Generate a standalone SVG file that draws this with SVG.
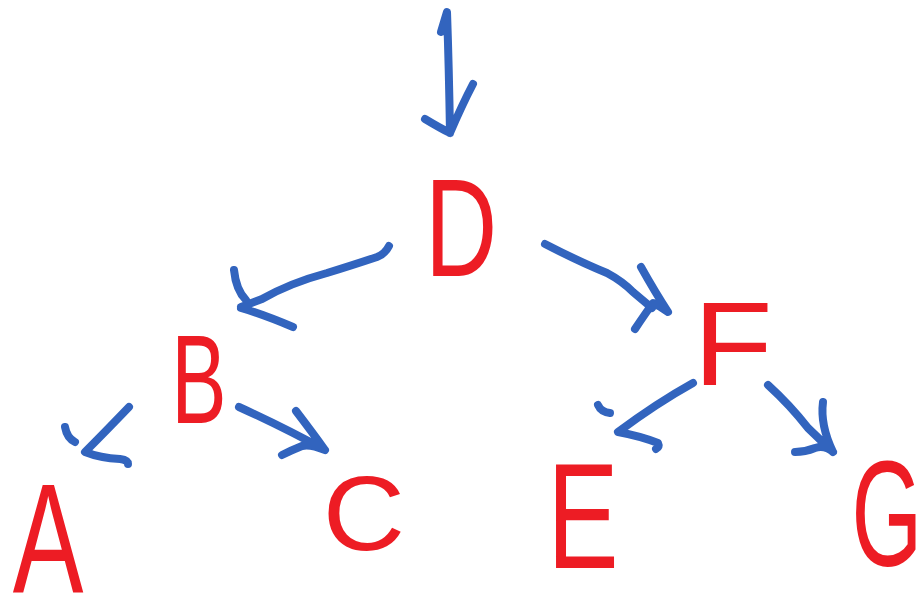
<svg xmlns="http://www.w3.org/2000/svg" width="922" height="600" viewBox="0 0 922 600">
<style>
.edge{fill:none;stroke:#3264BE;stroke-width:8;stroke-linecap:round;stroke-linejoin:round}
.lbl{font-family:"Liberation Sans",Arial,sans-serif;font-size:100px;fill:#ED1C24;text-anchor:middle}
</style>
<rect width="922" height="600" fill="#ffffff"/>
<g id="connectors">
<path class="edge" d="M441,32 L447,12 Q449,70 450,133 M425,119 Q440,128 450,133 Q462,105 473,84"/>
<path class="edge" d="M389,246 Q385,254 377,257 Q350,266 327,273 Q290,283 262,299 L241,307 M234,270 Q236,290 246,300 M241,308 Q262,314 293,327"/>
<path class="edge" d="M545,244 Q580,262 607,273 Q622,281 633,292 L652,308 M641,267 Q655,292 668,312 Q660,306 653,303 Q645,314 635,329"/>
<path class="edge" d="M129,407 Q105,432 85,452 Q100,458 120,459 Q128,460 128,464 M65,427 Q67,438 75,442"/>
<path class="edge" d="M239,407 Q285,428 325,450 M296,411 Q312,432 325,450 Q310,444 302,446 Q292,450 282,455"/>
<path class="edge" d="M693,383 Q657,403 618,432 Q640,436 658,443 Q660,447 656,449 M598,405 Q601,412 610,413"/>
<path class="edge" d="M768,385 Q790,405 808,428 L833,452 M823,402 Q820,425 833,452 Q825,445 815,448 Q805,452 795,452"/>
</g>
<g id="node-D"><text class="lbl" transform="translate(461,276) scale(1.0,1.4)">D</text></g>
<g id="node-B"><text class="lbl" transform="translate(199,423) scale(0.83,1.27)">B</text></g>
<g id="node-F"><text class="lbl" transform="translate(733,385) scale(1.3,1.19)">F</text></g>
<g id="node-A"><text class="lbl" transform="translate(48,592) scale(1.06,1.56)">A</text></g>
<g id="node-C"><text class="lbl" transform="translate(364,550) scale(1.14,1.05)">C</text></g>
<g id="node-E"><text class="lbl" transform="translate(583,568) scale(1.07,1.5)">E</text></g>
<g id="node-G"><text class="lbl" transform="translate(887,566) scale(0.91,1.5)">G</text></g>
</svg>
